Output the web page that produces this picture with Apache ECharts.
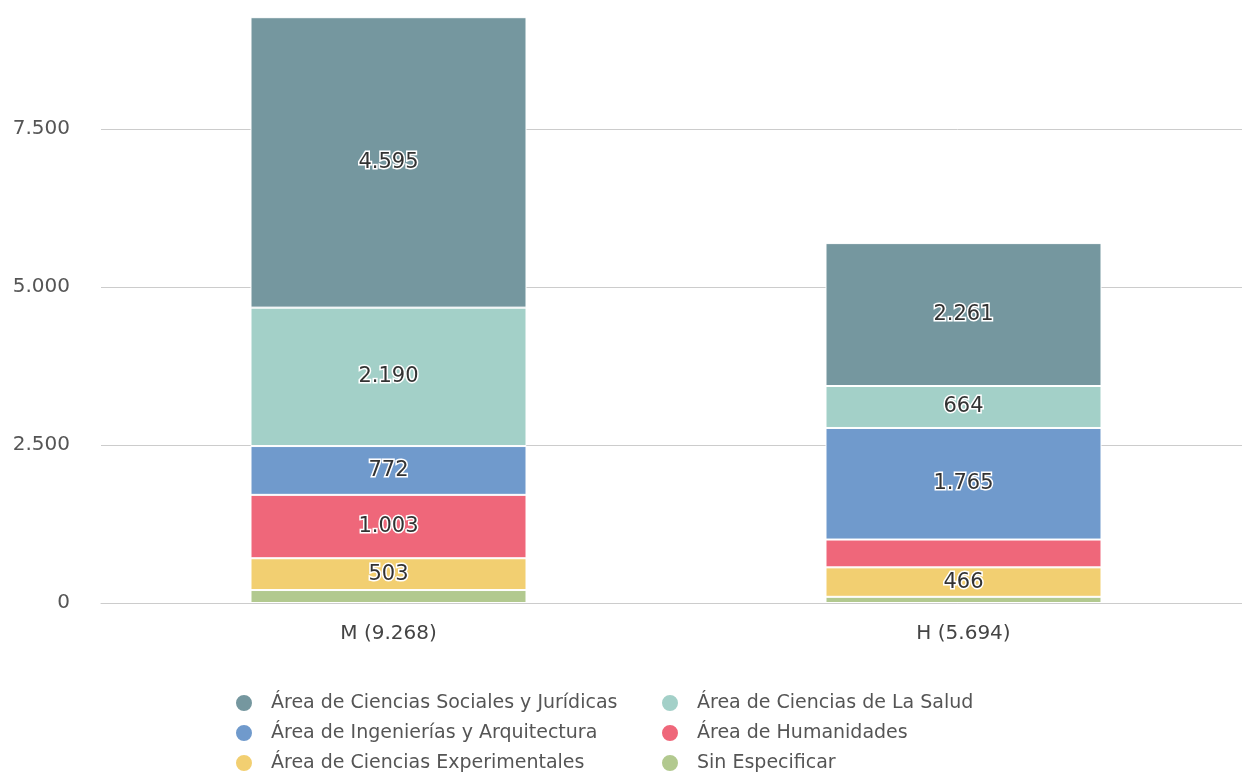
<!DOCTYPE html>
<html>
<head>
<meta charset="utf-8">
<script src="https://cdn.jsdelivr.net/npm/echarts@6/dist/echarts.min.js"></script>
<style>
  html, body { margin: 0; padding: 0; background: #fff; }
  #main { width: 1242px; height: 774px; }
</style>
</head>
<body>
<div id="main"></div>
<script>
// categorias del eje x
var categories = ['M (9.268)', 'H (5.694)'];

// valores por area (M, H)
var sinEspecificar = [205, 98];
var experimentales = [503, 466];
var humanidades = [1003, 440];
var ingenierias = [772, 1765];
var salud = [2190, 664];
var sociales = [4595, 2261];

var yTicks = [0, 2500, 5000, 7500];

// los segmentos pequeños no llevan etiqueta
var minLabelValue = 450;

function fmt (v) {
  return String(v).replace(/\B(?=(\d{3})+(?!\d))/g, '.');
}

var myChart = echarts.init(document.getElementById('main'));

function serie (name, data, color) {
  return {
    name: name,
    type: 'bar',
    stack: 'total',
    data: data,
    barWidth: '48%',
    itemStyle: { color: color, borderColor: '#ffffff', borderWidth: 1 },
    label: {
      show: true,
      position: 'inside',
      fontFamily: 'DejaVu Sans',
      fontSize: 21,
      color: '#333333',
      textBorderColor: '#ffffff',
      textBorderWidth: 3,
      formatter: function (p) {
        return p.value >= minLabelValue ? fmt(p.value) : '';
      }
    }
  };
}

var legendText = {
  fontFamily: 'DejaVu Sans',
  fontSize: 19,
  color: '#555555',
  lineHeight: 20,
  padding: [0, 0, 0, 13]
};

var option = {
  animation: false,
  textStyle: { fontFamily: 'DejaVu Sans' },
  grid: { left: 101, width: 1150, top: 0, height: 603, outerBoundsMode: 'none' },
  xAxis: {
    type: 'category',
    data: categories,
    axisTick: { show: false },
    axisLine: { lineStyle: { color: '#cccccc', width: 1 } },
    axisLabel: { fontSize: 20, color: '#444444', margin: 21 }
  },
  yAxis: {
    type: 'value',
    min: 0,
    max: 9540,
    interval: 2500,
    axisLine: { show: false },
    axisTick: { show: false },
    splitLine: { showMaxLine: false, lineStyle: { color: '#cccccc', width: 1 } },
    axisLabel: {
      fontSize: 20,
      color: '#555555',
      margin: 31,
      formatter: function (v) { return yTicks.indexOf(v) >= 0 ? fmt(v) : ''; }
    }
  },
  legend: [
    {
      orient: 'vertical',
      left: 234,
      top: 693,
      padding: 0,
      icon: 'circle',
      itemWidth: 18,
      itemHeight: 18,
      itemGap: 10,
      textStyle: legendText,
      data: ['Área de Ciencias Sociales y Jurídicas', 'Área de Ingenierías y Arquitectura', 'Área de Ciencias Experimentales']
    },
    {
      orient: 'vertical',
      left: 660,
      top: 693,
      padding: 0,
      icon: 'circle',
      itemWidth: 18,
      itemHeight: 18,
      itemGap: 10,
      textStyle: legendText,
      data: ['Área de Ciencias de La Salud', 'Área de Humanidades', 'Sin Especificar']
    }
  ],
  series: [
    serie('Sin Especificar', sinEspecificar, '#b2c98f'),
    serie('Área de Ciencias Experimentales', experimentales, '#f2cf71'),
    serie('Área de Humanidades', humanidades, '#ef677a'),
    serie('Área de Ingenierías y Arquitectura', ingenierias, '#709acc'),
    serie('Área de Ciencias de La Salud', salud, '#a3d0c8'),
    serie('Área de Ciencias Sociales y Jurídicas', sociales, '#75979f')
  ]
};

myChart.setOption(option);
</script>
</body>
</html>
